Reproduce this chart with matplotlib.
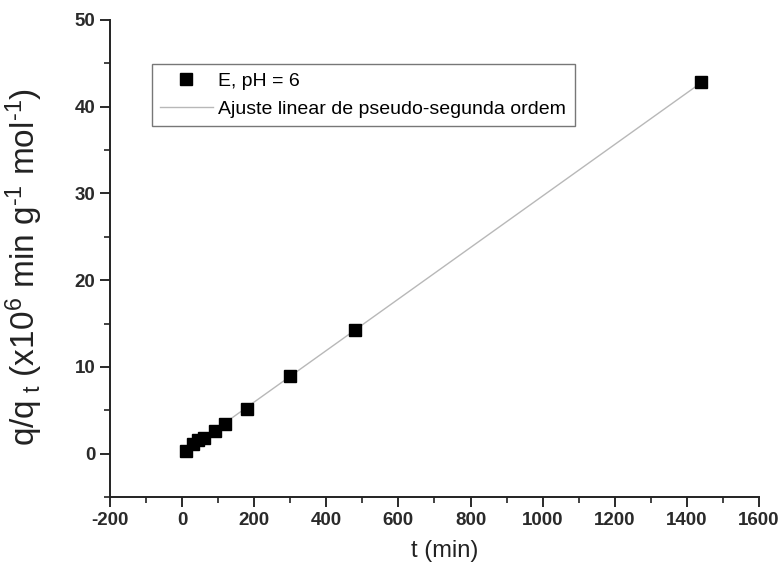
import numpy as np
import matplotlib
matplotlib.use("Agg")
import matplotlib.pyplot as plt
from matplotlib.ticker import MultipleLocator

plt.rcParams['font.family'] = ['Liberation Sans', 'DejaVu Sans']
plt.rcParams['mathtext.fontset'] = 'custom'
plt.rcParams['mathtext.rm'] = 'Liberation Sans'
plt.rcParams['mathtext.it'] = 'Liberation Sans'
plt.rcParams['mathtext.bf'] = 'Liberation Sans:bold'
plt.rcParams['axes.unicode_minus'] = False

# time (min) and t/q_t (x10^6 min g^-1 mol^-1)
t_min = [10, 30, 45, 60, 90, 120, 180, 300, 480, 1440]
t_over_q = [0.25, 1.15, 1.55, 1.8, 2.6, 3.4, 5.2, 8.9, 14.3, 42.8]

series_label = "E, pH = 6"
fit_label = "Ajuste linear de pseudo-segunda ordem"

# linear fit of the pseudo-second-order model
slope, intercept = np.polyfit(t_min, t_over_q, 1)
t_fit = np.array([t_min[0], t_min[-1]])
y_fit = intercept + slope * t_fit

fig = plt.figure(figsize=(7.83, 5.63), dpi=100)
ax = fig.add_axes([0.1405, 0.1172, 0.8288, 0.8473])

ax.plot(t_fit, y_fit, color='#b8b8b8', lw=1.0, label=fit_label, zorder=2)
ax.plot(t_min, t_over_q, ls='none', marker='s', ms=8.5, color='black',
        label=series_label, zorder=3)

ax.set_xlim(-200, 1600)
ax.set_ylim(-5, 50)
ax.xaxis.set_major_locator(MultipleLocator(200))
ax.xaxis.set_minor_locator(MultipleLocator(100))
ax.yaxis.set_major_locator(MultipleLocator(10))
ax.yaxis.set_minor_locator(MultipleLocator(5))

for s in ('top', 'right'):
    ax.spines[s].set_visible(False)
for s in ('left', 'bottom'):
    ax.spines[s].set_linewidth(1.4)
    ax.spines[s].set_color('#222222')

ax.tick_params(which='major', direction='out', length=7, width=1.4,
               labelsize=13.5, colors='#2a2a2a')
ax.tick_params(which='minor', direction='out', length=4, width=1.2,
               colors='#222222')
for lab in ax.get_xticklabels() + ax.get_yticklabels():
    lab.set_fontweight('bold')

ax.set_xlabel('t (min)', fontsize=17, color='#222222')
ax.xaxis.set_label_coords(0.515, -0.09)
ax.set_ylabel(r'q/q$_{\ t}$ (x10$^{6}$ min g$^{\text{-}1}$ mol$^{\text{-}1}$)',
              fontsize=24, color='#222222')
ax.yaxis.set_label_coords(-0.1, 0.482)

handles, labels = ax.get_legend_handles_labels()
leg = ax.legend(handles[::-1], labels[::-1], loc='upper left',
                bbox_to_anchor=(0.0647, 0.908), borderaxespad=0,
                fontsize=14, frameon=True, fancybox=False,
                edgecolor='#555555', handlelength=2.7, handletextpad=0.3,
                borderpad=0.42, labelspacing=0.53)
leg.get_frame().set_linewidth(1.0)

fig.savefig('out.png', dpi=100)
